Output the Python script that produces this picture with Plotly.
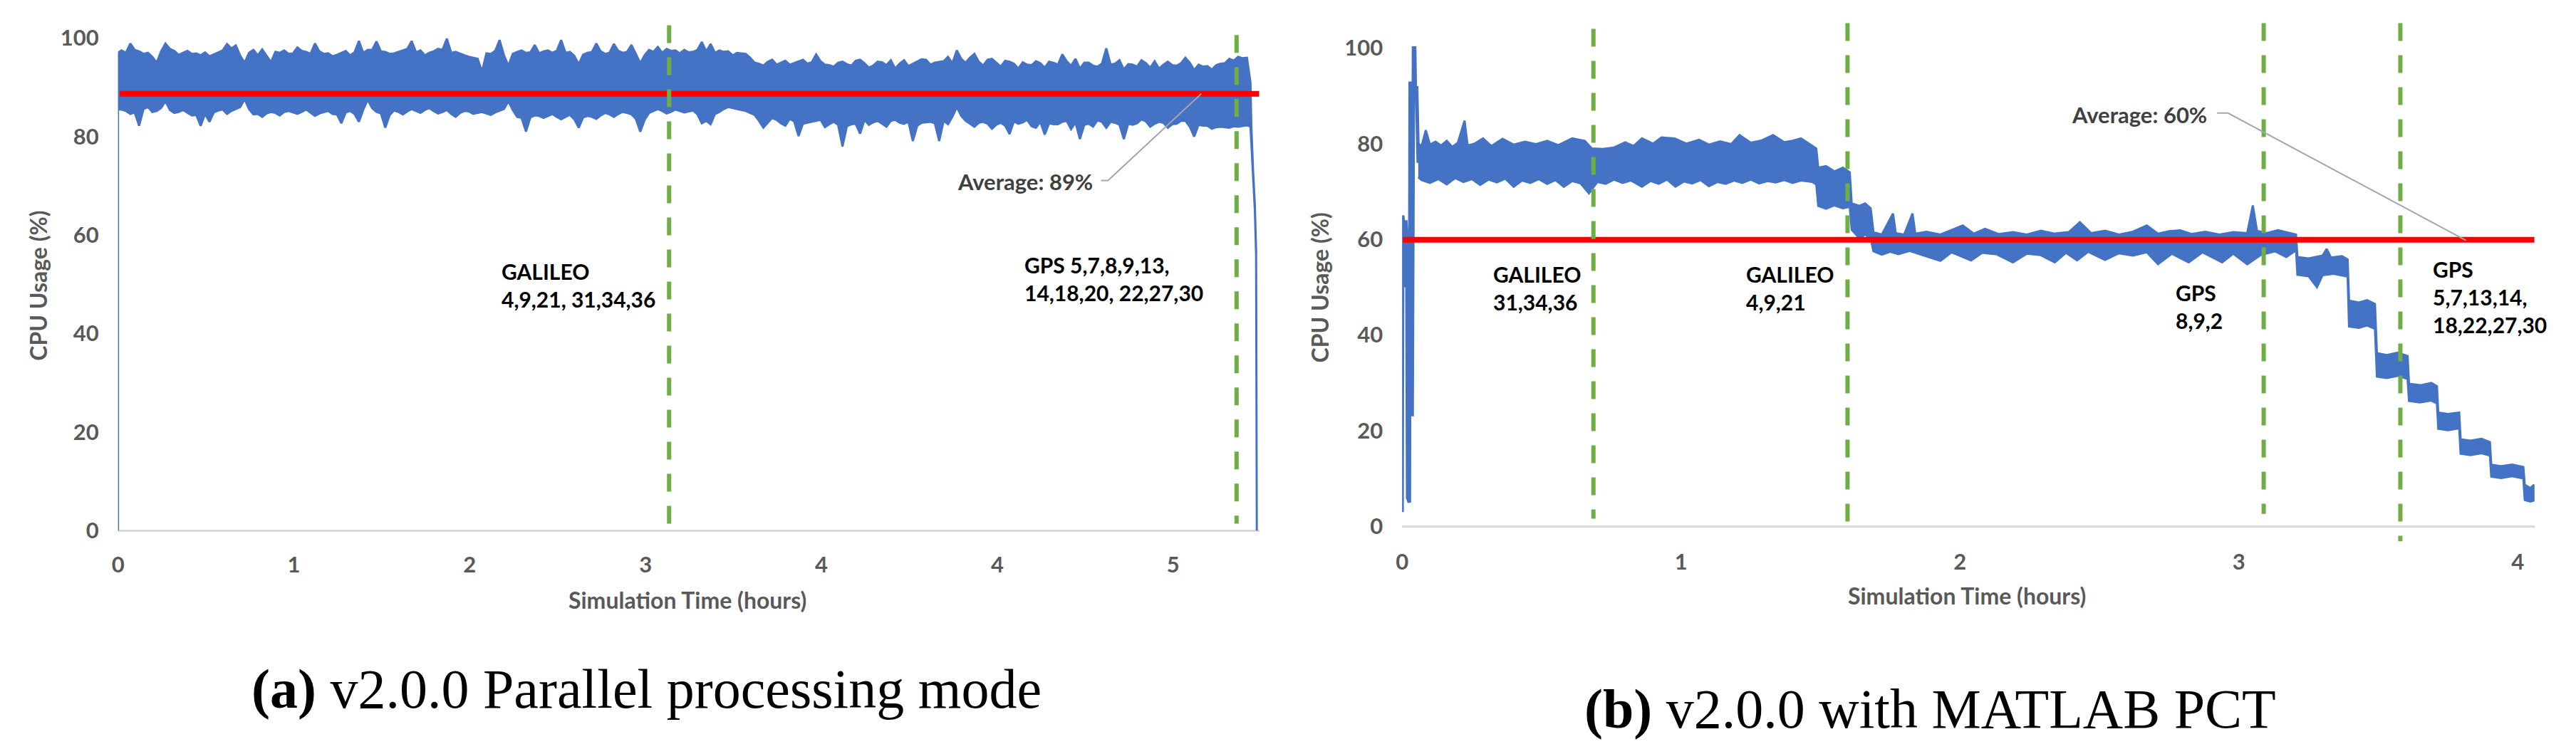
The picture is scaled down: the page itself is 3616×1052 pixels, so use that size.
import numpy as np
import plotly.graph_objects as go

# ---------------- (a) v2.0.0 parallel processing mode ----------------
# x is in the chart's own tick units (labels read 0,1,2,3,4,4,5)
a_ticktext = ["0", "1", "2", "3", "4", "4", "5"]
a_t0, a_dt = 0.02, 0.025         # sampling of the noisy band
# band edges at the main samples ...
a_upper = [97.5, 98.9, 97.3, 97.0, 95.0, 98.9, 97.4, 97.0, 96.8, 96.5,
           96.3, 97.2, 98.8, 98.5, 95.0, 97.6, 97.7, 95.1, 97.0, 96.8,
           98.1, 97.2, 98.9, 96.8, 96.3, 97.0, 96.5, 99.4, 97.6, 99.3,
           97.2, 96.9, 97.4, 99.4, 97.5, 97.0, 97.8, 99.9, 97.2, 96.5,
           96.0, 93.2, 96.8, 99.6, 94.4, 97.2, 97.0, 98.6, 97.3, 97.0,
           99.6, 97.2, 94.7, 97.0, 98.9, 96.8, 98.8, 97.0, 98.6, 94.9,
           97.6, 98.2, 97.8, 97.5, 97.6, 97.2, 99.2, 98.8, 97.5, 97.3,
           97.0, 96.8, 95.0, 94.4, 95.6, 95.0, 94.6, 95.3, 94.8, 96.7,
           94.6, 94.2, 95.2, 94.4, 95.6, 94.0, 95.2, 94.5, 93.8, 95.5,
           94.8, 95.7, 94.6, 95.2, 96.2, 97.5, 95.0, 96.8, 94.4, 95.8,
           94.2, 95.2, 93.8, 94.6, 95.3, 94.0, 95.0, 96.7, 94.4, 93.8,
           95.0, 94.2, 97.9, 94.8, 93.6, 94.6, 95.5, 94.0, 93.8, 95.2,
           94.4, 96.0, 93.5, 94.2, 93.6, 94.8, 95.8, 96.2, 96.0]
a_lower = [85.5, 84.6, 82.2, 86.0, 85.2, 87.2, 84.8, 85.4, 84.3, 82.2,
           83.0, 85.3, 84.6, 85.6, 87.6, 84.5, 84.0, 85.0, 84.3, 85.2,
           84.6, 85.5, 84.2, 85.0, 84.6, 82.7, 85.2, 83.0, 87.5, 85.0,
           81.8, 85.3, 84.5, 85.6, 84.8, 85.8, 84.7, 85.4, 84.0, 85.2,
           84.6, 85.0, 84.4, 85.3, 87.2, 84.0, 81.0, 84.3, 83.8, 84.6,
           83.5, 84.4, 81.8, 84.2, 83.6, 84.8, 84.0, 85.0, 84.5, 81.0,
           84.8, 85.6, 84.7, 85.5, 84.9, 85.3, 82.7, 82.5, 85.0, 86.0,
           85.6, 85.2, 84.4, 81.8, 83.8, 82.7, 83.6, 80.1, 82.8, 83.2,
           81.9, 83.0, 78.0, 82.5, 80.6, 82.4, 83.2, 82.0, 83.4, 82.6,
           79.1, 82.8, 83.0, 79.1, 82.5, 86.0, 83.2, 82.0, 83.0, 81.6,
           82.8, 80.5, 82.6, 83.4, 81.8, 80.4, 82.5, 83.0, 81.5, 79.5,
           82.6, 83.3, 81.8, 82.8, 79.5, 82.4, 83.5, 82.0, 83.0, 81.8,
           82.6, 83.2, 80.0, 82.2, 81.6, 82.0, 81.8, 82.0, 82.3]
# ... and half-way between them
a_upper_mid = [97.0, 97.6, 96.8, 96.2, 97.3, 97.8, 96.6, 97.4, 96.9, 97.1,
               96.7, 97.5, 97.9, 96.4, 97.0, 96.5, 96.3, 97.2, 97.5, 96.9,
               97.4, 96.8, 97.3, 96.9, 96.6, 97.4, 97.1, 97.0, 97.6, 97.3,
               96.8, 97.2, 97.8, 97.1, 96.5, 97.3, 97.6, 97.0, 96.8, 96.2,
               95.8, 96.9, 97.4, 96.5, 96.8, 97.5, 97.1, 96.9, 97.5, 97.4,
               97.0, 96.4, 96.6, 97.2, 97.3, 97.0, 97.4, 97.2, 96.8, 96.5,
               97.2, 97.0, 97.4, 96.9, 97.1, 97.6, 97.3, 97.0, 97.2, 96.5,
               96.9, 96.0, 94.8, 95.2, 94.6, 95.4, 94.9, 95.6, 95.1, 95.3,
               94.5, 95.0, 94.7, 95.4, 94.9, 94.4, 95.1, 95.5, 94.8, 94.3,
               95.2, 95.6, 95.0, 95.3, 94.9, 95.8, 96.0, 95.2, 95.6, 95.0,
               95.4, 94.8, 95.1, 94.5, 94.9, 95.2, 94.6, 95.3, 95.8, 95.0,
               94.4, 94.8, 94.6, 95.5, 94.7, 94.2, 94.9, 95.3, 94.6, 94.5,
               94.9, 95.0, 94.6, 94.3, 94.5, 94.9, 95.4, 95.9]
a_lower_mid = [85.2, 84.9, 85.6, 85.0, 85.8, 85.4, 85.0, 84.8, 84.4, 84.6,
               84.9, 85.5, 85.2, 86.0, 85.6, 84.6, 84.7, 84.8, 85.0, 84.9,
               85.0, 84.8, 84.7, 85.2, 84.5, 84.9, 84.6, 85.5, 85.8, 84.7,
               84.4, 85.0, 85.1, 85.2, 85.4, 85.2, 85.0, 84.6, 84.8, 85.1,
               84.8, 84.7, 84.9, 85.6, 85.4, 83.8, 83.9, 84.2, 84.2, 84.0,
               84.0, 83.5, 83.9, 84.0, 84.3, 84.5, 84.6, 84.8, 83.6, 83.4,
               85.2, 85.2, 85.0, 85.2, 85.1, 84.5, 83.2, 84.6, 85.6, 85.8,
               85.4, 84.8, 83.2, 82.8, 83.4, 82.2, 83.1, 82.6, 82.9, 83.4,
               82.5, 82.4, 82.1, 82.6, 83.4, 82.9, 82.6, 83.2, 82.8, 83.0,
               82.2, 82.9, 82.7, 83.2, 84.0, 84.2, 82.6, 82.8, 82.6, 82.4,
               82.2, 83.1, 82.9, 82.1, 83.0, 82.7, 82.5, 83.2, 82.9, 82.4,
               82.0, 83.0, 83.0, 82.4, 82.6, 82.7, 83.1, 82.6, 82.8, 82.5,
               83.2, 82.0, 82.4, 82.2, 81.9, 81.9, 82.1, 82.2]
a_start_top, a_start_bottom = 97.0, 85.5
a_tail_t = [6.44, 6.445, 6.455, 6.465, 6.472, 6.476]
a_tail_up = [91.0, 82.0, 73.0, 66.0, 57.0, 0.0]
a_tail_lo = [82.0, 80.0, 72.0, 65.0, 56.0, 0.0]
a_avg, a_avg_end = 88.7, 6.49
a_events = [3.134, 6.361]
a_event_top = [102.6, 100.6]
a_event_bottom = [0.0, 1.4]
a_labels = ["GALILEO<br>4,9,21, 31,34,36", "GPS 5,7,8,9,13,<br>14,18,20, 22,27,30"]
a_label_x = [2.171, 5.148]
a_label_y = [49.8, 51.1]
a_leader_x = [5.59, 5.63, 6.16]
a_leader_y = [71.1, 71.1, 88.7]

# ---------------- (b) v2.0.0 with MATLAB PCT ----------------
b_start_t = [0.000, 0.002, 0.006, 0.010, 0.013, 0.017, 0.020, 0.026, 0.029,
             0.033, 0.036, 0.039, 0.041, 0.045, 0.048, 0.052, 0.056, 0.058]
b_start_v = [3, 65, 63, 50, 64, 60, 6, 5, 93, 91, 23, 93, 100, 100, 89, 92, 78, 76]
b_up_t = [0.058, 0.07, 0.085, 0.10, 0.12, 0.14, 0.16, 0.18, 0.20, 0.224, 0.235,
          0.26, 0.29, 0.32, 0.36, 0.40, 0.44, 0.48, 0.52, 0.56, 0.61, 0.655,
          0.68, 0.72, 0.76, 0.80, 0.83, 0.86, 0.90, 0.93, 0.977, 1.02, 1.065,
          1.10, 1.14, 1.18, 1.21, 1.25, 1.29, 1.33, 1.37, 1.40, 1.43, 1.474,
          1.485, 1.492, 1.52, 1.55, 1.58, 1.605, 1.612, 1.64, 1.66, 1.68,
          1.69, 1.72, 1.76, 1.77, 1.80, 1.83, 1.84, 1.88, 1.93, 2.01, 2.05,
          2.09, 2.14, 2.19, 2.24, 2.29, 2.34, 2.39, 2.43, 2.47, 2.52, 2.57,
          2.62, 2.67, 2.71, 2.75, 2.79, 2.83, 2.88, 2.93, 2.98, 3.03, 3.05,
          3.065, 3.10, 3.14, 3.18, 3.205, 3.21, 3.25, 3.30, 3.315, 3.33, 3.37,
          3.39, 3.395, 3.43, 3.46, 3.488, 3.495, 3.53, 3.57, 3.605, 3.61,
          3.65, 3.69, 3.71, 3.715, 3.75, 3.79, 3.795, 3.83, 3.87, 3.90, 3.905,
          3.94, 3.98, 4.02, 4.025, 4.045, 4.058]
b_up_v = [80.0, 79.5, 82.8, 79.8, 80.4, 79.6, 80.6, 79.3, 80.2, 84.8, 79.6,
          80.0, 81.1, 79.5, 81.0, 79.8, 80.4, 79.9, 80.6, 79.7, 81.1, 80.6,
          79.0, 78.9, 79.2, 80.3, 79.5, 81.1, 80.0, 81.3, 81.1, 80.0, 80.8,
          79.8, 80.5, 79.9, 81.8, 80.2, 80.7, 81.8, 80.3, 80.6, 81.1, 79.4,
          79.0, 75.0, 75.3, 74.2, 75.0, 74.0, 67.5, 67.0, 67.5, 66.5,
          61.5, 61.0, 65.4, 61.3, 61.0, 65.4, 61.2, 61.6, 61.0, 62.9, 61.2,
          62.2, 61.1, 61.5, 61.0, 61.8, 61.2, 61.5, 63.6, 61.3, 61.8, 61.0,
          61.6, 62.9, 61.2, 61.7, 61.9, 61.1, 61.6, 61.0, 61.5, 61.3, 67.1,
          61.8, 61.3, 61.9, 61.4, 61.0, 56.3, 56.0, 56.6, 58.0, 56.2, 56.5,
          55.8, 47.2, 46.8, 47.3, 46.5, 36.2, 35.8, 36.3, 35.6, 29.8,
          29.5, 30.0, 29.3, 23.8, 23.5, 23.8, 18.2, 17.9, 18.3, 17.6, 12.9,
          12.6, 12.9, 12.4, 8.7, 8.0, 8.7]
b_lo_t = [0.058, 0.07, 0.10, 0.13, 0.16, 0.19, 0.22, 0.25, 0.28, 0.31, 0.34,
          0.37, 0.40, 0.43, 0.46, 0.49, 0.52, 0.55, 0.58, 0.61, 0.64, 0.67,
          0.70, 0.73, 0.76, 0.79, 0.82, 0.86, 0.89, 0.92, 0.95, 0.98, 1.01,
          1.04, 1.07, 1.10, 1.13, 1.16, 1.19, 1.22, 1.25, 1.28, 1.31, 1.34,
          1.37, 1.40, 1.43, 1.47, 1.485, 1.492, 1.52, 1.55, 1.58, 1.605,
          1.612, 1.64, 1.66, 1.68, 1.69, 1.72, 1.75, 1.78, 1.82, 1.86, 1.93,
          1.97, 2.04, 2.08, 2.13, 2.19, 2.24, 2.29, 2.34, 2.38, 2.42, 2.46,
          2.52, 2.57, 2.62, 2.67, 2.71, 2.76, 2.82, 2.87, 2.94, 2.98, 3.03,
          3.08, 3.13, 3.17, 3.205, 3.21, 3.25, 3.28, 3.30, 3.34, 3.39, 3.395,
          3.43, 3.46, 3.488, 3.495, 3.53, 3.57, 3.605, 3.61, 3.65, 3.69, 3.71,
          3.715, 3.75, 3.79, 3.795, 3.83, 3.87, 3.90, 3.905, 3.94, 3.98, 4.02,
          4.025, 4.045, 4.058]
b_lo_v = [73.0, 72.4, 71.8, 72.6, 71.5, 72.8, 72.0, 72.6, 71.4, 72.5, 71.9,
          72.7, 71.0, 72.3, 71.8, 72.6, 71.6, 72.4, 71.0, 72.2, 71.7, 69.6,
          72.0, 71.6, 72.5, 71.8, 72.3, 71.0, 72.2, 71.6, 72.5, 71.0, 72.1,
          71.7, 72.4, 71.1, 72.0, 71.6, 72.3, 71.8, 72.5, 71.7, 72.2, 71.9,
          72.4, 71.8, 72.3, 72.0, 71.5, 67.0, 66.4, 67.1, 66.5, 66.8,
          62.0, 60.2, 61.0, 60.2, 57.5, 56.8, 57.4, 56.9, 57.6, 56.8, 55.5,
          57.3, 55.6, 57.2, 56.9, 55.2, 57.0, 56.7, 55.2, 57.2, 55.6, 57.4,
          55.7, 57.1, 56.6, 57.3, 54.8, 57.0, 55.2, 57.3, 55.2, 57.0, 54.8,
          56.8, 57.5, 56.3, 57.7, 52.6, 52.3, 50.0, 52.5, 52.8, 52.2, 41.8,
          41.5, 42.0, 41.3, 31.3, 31.0, 31.5, 30.8, 26.2, 25.9, 26.3, 25.7,
          20.4, 20.1, 20.5, 15.2, 14.9, 15.3, 14.8, 10.4, 10.1, 10.5, 10.0,
          5.5, 5.2, 5.4]
b_avg, b_avg_start, b_avg_end = 59.9, 0.003, 4.06
b_events = [0.686, 1.597, 3.089, 3.579]
b_event_top = [104.0, 105.2, 105.2, 105.2]
b_event_bottom = [1.6, -0.1, 2.6, -3.1]
b_labels = ["GALILEO<br>31,34,36", "GALILEO<br>4,9,21", "GPS<br>8,9,2",
            "GPS<br>5,7,13,14,<br>18,22,27,30"]
b_label_x = [0.321, 1.228, 2.769, 3.689]
b_label_y = [49.9, 49.9, 45.9, 48.0]
b_leader_x = [2.922, 2.961, 3.814]
b_leader_y = [86.4, 86.4, 59.8]

y_ticks = [0, 20, 40, 60, 80, 100]

BLUE = "#4472C4"
RED = "#FF0000"
GREEN = "#70AD47"
GREY = "#595959"
SANS = "Lato, Carlito, 'Open Sans', sans-serif"
SERIF = "'Liberation Serif', 'DejaVu Serif', serif"


def interleave(main, mid):
    out = []
    for i, v in enumerate(main):
        out.append(v)
        if i < len(mid):
            out.append(mid[i])
    return out


fig = go.Figure()

# --- (a) band as one closed outline: rise at t=0, upper edge, drop, lower edge back
a_up = interleave(a_upper, a_upper_mid)
a_lo = interleave(a_lower, a_lower_mid)
a_t = list(np.round(a_t0 + a_dt * np.arange(len(a_up)), 4))
a_poly_x = [0, 0] + a_t + a_tail_t + (a_t + a_tail_t)[::-1] + [0]
a_poly_y = [0, a_start_top] + a_up + a_tail_up + (a_lo + a_tail_lo)[::-1] + [a_start_bottom]
fig.add_trace(go.Scatter(x=a_poly_x, y=a_poly_y, xaxis="x", yaxis="y", mode="lines",
                         fill="toself", fillcolor=BLUE, line=dict(color=BLUE, width=3),
                         hoverinfo="skip", showlegend=False))

# --- (b) start-up spikes, then the band
fig.add_trace(go.Scatter(x=b_start_t, y=b_start_v, xaxis="x2", yaxis="y2", mode="lines",
                         line=dict(color=BLUE, width=5), hoverinfo="skip", showlegend=False))
b_poly_x = b_up_t + b_lo_t[::-1]
b_poly_y = b_up_v + b_lo_v[::-1]
fig.add_trace(go.Scatter(x=b_poly_x, y=b_poly_y, xaxis="x2", yaxis="y2", mode="lines",
                         fill="toself", fillcolor=BLUE, line=dict(color=BLUE, width=3),
                         hoverinfo="skip", showlegend=False))

# average lines
fig.add_trace(go.Scatter(x=[0.01, a_avg_end], y=[a_avg, a_avg], xaxis="x", yaxis="y",
                         mode="lines", line=dict(color=RED, width=8),
                         hoverinfo="skip", showlegend=False))
fig.add_trace(go.Scatter(x=[b_avg_start, b_avg_end], y=[b_avg, b_avg], xaxis="x2", yaxis="y2",
                         mode="lines", line=dict(color=RED, width=8),
                         hoverinfo="skip", showlegend=False))

# satellite event markers (green dashed)
for xa, ya, ev, top, bot in [("x", "y", a_events, a_event_top, a_event_bottom),
                             ("x2", "y2", b_events, b_event_top, b_event_bottom)]:
    for t, y1, y0 in zip(ev, top, bot):
        fig.add_trace(go.Scatter(x=[t, t], y=[y1, y0], xaxis=xa, yaxis=ya, mode="lines",
                                 line=dict(color=GREEN, width=6, dash="25px,20px"),
                                 hoverinfo="skip", showlegend=False))

# leader lines of the average callouts
fig.add_trace(go.Scatter(x=a_leader_x, y=a_leader_y, xaxis="x", yaxis="y", mode="lines",
                         line=dict(color="#A6A6A6", width=2), hoverinfo="skip", showlegend=False))
fig.add_trace(go.Scatter(x=b_leader_x, y=b_leader_y, xaxis="x2", yaxis="y2", mode="lines",
                         line=dict(color="#A6A6A6", width=2), hoverinfo="skip", showlegend=False))

label_font = dict(family=SANS, size=30, color="black", weight="bold")
annotations = []
for txt, x, y in zip(a_labels, a_label_x, a_label_y):
    annotations.append(dict(text=txt, x=x, y=y, xref="x", yref="y", xanchor="left",
                            yanchor="middle", align="left", showarrow=False, font=label_font))
for txt, x, y in zip(b_labels, b_label_x, b_label_y):
    annotations.append(dict(text=txt, x=x, y=y, xref="x2", yref="y2", xanchor="left",
                            yanchor="middle", align="left", showarrow=False, font=label_font))
avg_font = dict(family=SANS, size=31, color="#404040", weight="bold")
annotations.append(dict(text="Average: 89%", x=5.55, y=70.8, xref="x", yref="y",
                        xanchor="right", yanchor="middle", showarrow=False, font=avg_font))
annotations.append(dict(text="Average: 60%", x=2.89, y=86.0, xref="x2", yref="y2",
                        xanchor="right", yanchor="middle", showarrow=False, font=avg_font))

title_font = dict(family=SANS, size=32, color=GREY, weight="bold")
for x, y in [(0.0102, 0.6226), (0.5089, 0.6198)]:
    annotations.append(dict(text="CPU Usage (%)", x=x, y=y, xref="paper", yref="paper",
                            xanchor="center", yanchor="middle", textangle=-90,
                            showarrow=False, font=title_font))
for x, y in [(0.2627, 0.1987), (0.7608, 0.2044)]:
    annotations.append(dict(text="Simulation Time (hours)", x=x, y=y, xref="paper",
                            yref="paper", xanchor="center", yanchor="middle",
                            showarrow=False, font=title_font))

cap_font = dict(family=SERIF, size=78, color="black")
annotations.append(dict(text="<b>(a)</b> v2.0.0 Parallel processing mode", x=0.2470, y=0.0779,
                        xref="paper", yref="paper", xanchor="center", yanchor="middle",
                        showarrow=False, font=cap_font))
annotations.append(dict(text="<b>(b)</b> v2.0.0 with MATLAB PCT", x=0.7464, y=0.0513,
                        xref="paper", yref="paper", xanchor="center", yanchor="middle",
                        showarrow=False, font=cap_font))

tick_font = dict(family=SANS, size=31, color=GREY, weight="bold")
yaxis_common = dict(tickvals=y_ticks, showgrid=False, showline=False, ticks="",
                    zeroline=True, zerolinecolor="#D9D9D9", zerolinewidth=2.5,
                    tickfont=tick_font, ticklabelstandoff=26, fixedrange=True)
xaxis_common = dict(showgrid=False, showline=False, ticks="", zeroline=False,
                    tickfont=tick_font, fixedrange=True)

fig.update_layout(
    width=3616, height=1052,
    margin=dict(l=0, r=0, t=0, b=0),
    paper_bgcolor="white", plot_bgcolor="white",
    showlegend=False,
    xaxis=dict(xaxis_common, domain=[0.04121, 0.48535], range=[0, a_avg_end],
               tickvals=list(range(len(a_ticktext))), ticktext=a_ticktext,
               anchor="y", ticklabelstandoff=20),
    yaxis=dict(yaxis_common, domain=[0.28517, 0.98289], range=[-1, 104], anchor="x"),
    xaxis2=dict(xaxis_common, domain=[0.54093, 0.98164], range=[0, 4.06],
                tickvals=[0, 1, 2, 3, 4], anchor="y2", ticklabelstandoff=2),
    yaxis2=dict(yaxis_common, domain=[0.27167, 0.98165], range=[-4, 106], anchor="x2"),
    annotations=annotations,
)

fig.write_html("out.html")
